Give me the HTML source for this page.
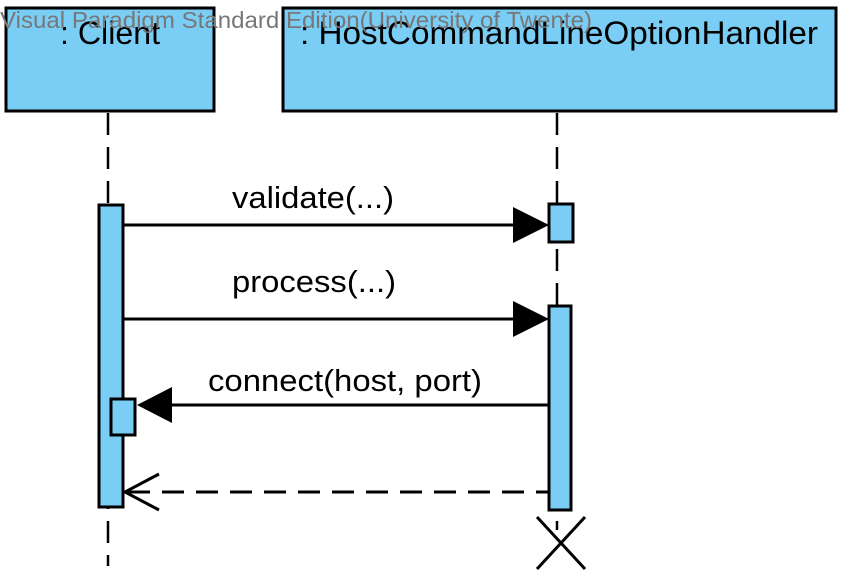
<!DOCTYPE html>
<html><head><style>body{margin:0;background:#fff}</style></head><body>
<svg width="852" height="582" xmlns="http://www.w3.org/2000/svg" font-family="Liberation Sans, Arial, sans-serif">
<rect x="6" y="8" width="208" height="103" fill="#7acdf4" stroke="#000" stroke-width="3"/>
<rect x="283" y="8" width="553" height="103" fill="#7acdf4" stroke="#000" stroke-width="3"/>
<text x="60" y="44" font-size="32" textLength="100" lengthAdjust="spacingAndGlyphs">: Client</text>
<text x="300" y="44" font-size="32" textLength="518" lengthAdjust="spacingAndGlyphs">: HostCommandLineOptionHandler</text>
<text x="0" y="28" font-size="23" fill="#777" textLength="592" lengthAdjust="spacingAndGlyphs">Visual Paradigm Standard Edition(University of Twente)</text>
<g stroke="#000" stroke-width="2.5" stroke-dasharray="22,12">
<line x1="108" y1="113" x2="108" y2="566"/>
<line x1="557" y1="113" x2="557" y2="530"/>
</g>
<rect x="99" y="205" width="24" height="302" fill="#7acdf4" stroke="#000" stroke-width="3"/>
<rect x="549" y="204" width="24" height="38" fill="#7acdf4" stroke="#000" stroke-width="3"/>
<rect x="549" y="306" width="22" height="204" fill="#7acdf4" stroke="#000" stroke-width="3"/>
<rect x="111" y="399" width="24" height="36" fill="#7acdf4" stroke="#000" stroke-width="3"/>
<g stroke="#000" stroke-width="3">
<line x1="123" y1="225" x2="515" y2="225"/>
<line x1="123" y1="319" x2="515" y2="319"/>
<line x1="172" y1="405" x2="549" y2="405"/>
<line x1="128" y1="492" x2="549" y2="492" stroke-dasharray="22,12"/>
<polyline points="159,474 125,492 159,510" fill="none"/>
<line x1="537" y1="517" x2="585" y2="569"/>
<line x1="585" y1="517" x2="537" y2="569"/>
</g>
<polygon points="513,207 549,225 513,243" fill="#000"/>
<polygon points="513,301 549,319 513,337" fill="#000"/>
<polygon points="172,387 137,405 172,423" fill="#000"/>
<text x="232" y="208" font-size="31" textLength="162" lengthAdjust="spacingAndGlyphs">validate(...)</text>
<text x="232" y="292" font-size="31" textLength="164" lengthAdjust="spacingAndGlyphs">process(...)</text>
<text x="208" y="391" font-size="31" textLength="274" lengthAdjust="spacingAndGlyphs">connect(host, port)</text>
</svg>
</body></html>
